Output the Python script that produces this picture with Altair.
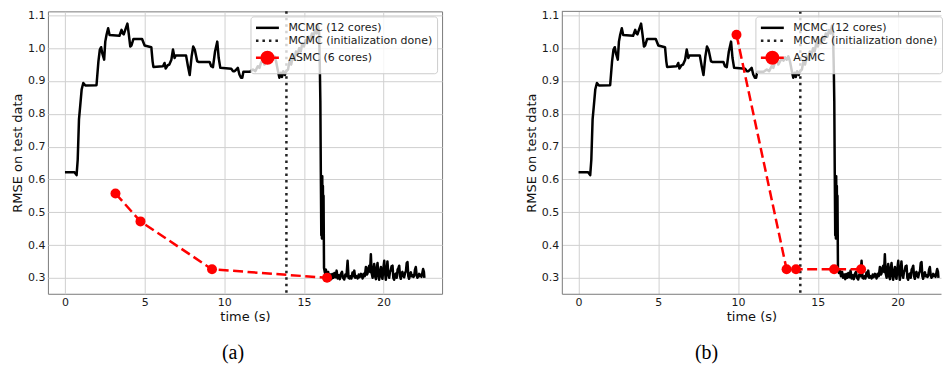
import altair as alt
import pandas as pd

# ---------------- data ----------------
mcmc_t = [0.0, 0.6, 0.73, 0.8, 0.88, 0.95, 1.05, 1.15, 1.28, 1.98, 2.1, 2.19, 2.27, 2.34, 2.46, 2.53,
          2.61, 2.71, 2.8, 3.42, 3.55, 3.62, 3.69, 3.8, 3.92, 4.0, 4.1, 4.17, 4.3, 4.84, 5.0, 5.42,
          5.5, 5.55, 6.15, 6.25, 6.32, 6.45, 6.55, 6.68, 6.78, 6.88, 6.95, 7.6, 7.72, 7.83, 7.95,
          8.05, 8.15, 8.3, 8.41, 9.08, 9.18, 9.29, 9.42, 9.56, 9.65, 9.75, 10.44, 10.55, 10.65,
          10.75, 10.85, 10.95, 11.05, 11.13, 11.2, 11.29, 11.6, 11.8, 11.95, 12.1, 12.21, 12.3,
          12.42, 12.52, 12.63, 12.75, 12.85, 12.95, 13.05, 13.15, 13.25, 13.35, 13.46, 13.55,
          13.62, 13.7, 13.8, 13.88, 14.0, 14.1, 14.2, 14.3, 14.4, 14.5, 14.6, 14.7, 14.8, 14.9,
          15.0, 15.1, 15.2, 15.3, 15.4, 15.5, 15.6, 15.7, 15.8, 15.88, 15.95, 16.0, 16.03, 16.06,
          16.09, 16.11, 16.13, 16.15, 16.17, 16.19, 16.21, 16.23, 16.26, 16.32, 16.38, 16.45,
          16.52, 16.58, 16.65, 16.72, 16.78, 16.85, 16.91, 16.98, 17.05, 17.12, 17.18, 17.25,
          17.32, 17.39, 17.45, 17.53, 17.6, 17.67, 17.74, 17.8, 17.86, 17.92, 17.98, 18.05, 18.1,
          18.16, 18.22, 18.3, 18.37, 18.44, 18.5, 18.58, 18.64, 18.68, 18.75, 18.82, 18.89, 18.95,
          18.99, 19.05, 19.1, 19.15, 19.2, 19.25, 19.31, 19.36, 19.41, 19.46, 19.52, 19.57, 19.62,
          19.67, 19.72, 19.78, 19.83, 19.88, 19.93, 19.99, 20.04, 20.09, 20.14, 20.19, 20.24,
          20.3, 20.35, 20.4, 20.45, 20.5, 20.56, 20.61, 20.66, 20.72, 20.77, 20.82, 20.88, 20.93,
          20.98, 21.03, 21.08, 21.13, 21.18, 21.24, 21.29, 21.35, 21.4, 21.45, 21.5, 21.55, 21.6,
          21.66, 21.71, 21.76, 21.82, 21.87, 21.92, 21.97, 22.02, 22.07, 22.12, 22.18, 22.23,
          22.28, 22.33, 22.38, 22.43, 22.48, 22.53, 22.56]
mcmc_rmse = [0.622, 0.622, 0.613, 0.66, 0.783, 0.82, 0.875, 0.894, 0.886, 0.887, 0.96, 0.996, 1.003,
             0.985, 0.965, 1.02, 1.041, 1.061, 1.04, 1.038, 1.056, 1.045, 1.042, 1.058, 1.075, 1.045,
             1.005, 1.008, 1.028, 1.028, 1.008, 1.003, 0.96, 0.943, 0.945, 0.955, 0.938, 0.948, 0.95,
             0.965, 0.996, 0.97, 0.978, 0.978, 0.945, 0.918, 0.975, 1.005, 0.995, 0.96, 0.958, 0.958,
             0.945, 0.942, 0.99, 1.02, 0.97, 0.94, 0.937, 0.93, 0.93, 0.935, 0.94, 0.92, 0.91, 0.91,
             0.928, 0.928, 0.928, 0.935, 0.93, 0.945, 0.94, 0.955, 0.965, 0.95, 0.96, 0.968, 0.962,
             0.972, 0.965, 0.975, 0.96, 0.935, 0.91, 0.925, 0.912, 0.93, 0.918, 0.93, 0.935, 0.962,
             0.95, 0.975, 0.965, 0.99, 0.98, 1.0, 0.99, 1.015, 1.005, 1.025, 1.015, 1.035, 1.025,
             1.045, 1.035, 1.055, 1.045, 1.068, 1.05, 0.935, 0.84, 0.62, 0.43, 0.6, 0.42, 0.61, 0.43,
             0.58, 0.44, 0.55, 0.33, 0.315, 0.325, 0.305, 0.318, 0.3, 0.31, 0.296, 0.312, 0.3, 0.315,
             0.302, 0.322, 0.298, 0.308, 0.296, 0.312, 0.318, 0.3, 0.295, 0.31, 0.305, 0.352, 0.3,
             0.298, 0.305, 0.298, 0.316, 0.305, 0.322, 0.3, 0.305, 0.298, 0.31, 0.302, 0.312, 0.306,
             0.298, 0.312, 0.305, 0.333, 0.31, 0.313, 0.33, 0.337, 0.318, 0.372, 0.315, 0.3, 0.325,
             0.342, 0.305, 0.296, 0.33, 0.345, 0.31, 0.294, 0.32, 0.333, 0.305, 0.297, 0.33, 0.352,
             0.315, 0.294, 0.32, 0.35, 0.31, 0.3, 0.318, 0.323, 0.335, 0.337, 0.3, 0.294, 0.31, 0.313,
             0.3, 0.325, 0.33, 0.337, 0.305, 0.297, 0.315, 0.318, 0.305, 0.302, 0.315, 0.32, 0.345,
             0.348, 0.305, 0.297, 0.312, 0.317, 0.305, 0.308, 0.303, 0.306, 0.325, 0.333, 0.31, 0.3,
             0.305, 0.312, 0.305, 0.309, 0.303, 0.315, 0.327, 0.318, 0.3]

init_done_t = [13.9]

asmc_a_t = [3.17, 4.74, 9.23, 16.45]
asmc_a_rmse = [0.557, 0.472, 0.326, 0.300]

asmc_b_t = [9.90, 13.04, 13.63, 16.02, 17.71]
asmc_b_rmse = [1.041, 0.326, 0.326, 0.326, 0.326]

labels_a = ["MCMC (12 cores)", "MCMC (initialization done)", "ASMC (6 cores)"]
labels_b = ["MCMC (12 cores)", "MCMC (initialization done)", "ASMC"]
captions = ["(a)", "(b)"]

x_ticks = [0, 5, 10, 15, 20]
y_ticks = [0.3, 0.4, 0.5, 0.6, 0.7, 0.8, 0.9, 1.0, 1.1]
x_domain_a = [-1.07, 23.67]
x_domain_b = [-1.05, 22.72]   # right panel is cut off at the figure edge
y_domain = [0.2514, 1.1122]

series_colors = ["black", "#222222", "red"]
frame_color = "#7a7a7a"
# legend symbols (unit = half the symbol size): solid line, dotted line,
# dashed line with a circle marker; drawn 23px long starting at the entry's left edge
legend_shapes = [
    "M-1,0H2.83",
    "M-1,0H-0.58M0.08,0H0.5M1.17,0H1.58M2.25,0H2.67",
    "M-1,0H-0.05M1.88,0H2.83M1.88,0A0.965,0.965,0,1,1,-0.05,0A0.965,0.965,0,1,1,1.88,0Z",
]


def panel(asmc_t, asmc_rmse, labels, caption, x_domain, open_right, cap_dx):
    mc = pd.DataFrame({"t": mcmc_t, "rmse": mcmc_rmse, "series": labels[0]})
    vd = pd.DataFrame({"t": init_done_t, "series": labels[1]})
    asmc = pd.DataFrame({"t": asmc_t, "rmse": asmc_rmse, "series": labels[2]})
    empty = pd.DataFrame({"t": pd.Series([], dtype=float),
                          "rmse": pd.Series([], dtype=float),
                          "series": pd.Series([], dtype=str)})

    xs = alt.Scale(domain=x_domain, nice=False, zero=False)
    ys = alt.Scale(domain=y_domain, nice=False, zero=False)

    if open_right:
        leg_pos = dict(orient="none", legendX=194, legendY=5)
    else:
        leg_pos = dict(orient="top-right", offset=5)
    leg = alt.Legend(title=None, **leg_pos,
                     fillColor="rgba(255,255,255,0.8)", strokeColor="#cccccc",
                     cornerRadius=3, padding=4,
                     labelFont="DejaVu Sans", labelFontSize=11, labelColor="#1a1a1a",
                     symbolSize=144, symbolStrokeWidth=2.5, labelOffset=19, rowPadding=0)

    color = alt.Color("series:N", scale=alt.Scale(domain=labels, range=series_colors), legend=leg)
    shape = alt.Shape("series:N", scale=alt.Scale(domain=labels, range=legend_shapes), legend=leg)

    dom = dict(domain=True, domainColor=frame_color, domainWidth=1) if open_right else {}
    xenc = alt.X("t:Q", scale=xs,
                 axis=alt.Axis(values=x_ticks, title="time (s)", format="d", **dom))
    yenc = alt.Y("rmse:Q", scale=ys,
                 axis=alt.Axis(values=y_ticks, format=".1f", title="RMSE on test data", **dom))

    layers = [
        alt.Chart(empty).mark_point(filled=True, opacity=1).encode(
            x=xenc, y=yenc, color=color, shape=shape),
        alt.Chart(mc).mark_line(strokeWidth=2.5, strokeJoin="round").encode(
            x=xenc, y=yenc, color=color),
        alt.Chart(vd).mark_rule(strokeWidth=2.5, strokeDash=[2.5, 4]).encode(
            x=alt.X("t:Q", scale=xs), color=color),
        alt.Chart(asmc).mark_line(strokeWidth=2.5, strokeDash=[10, 4.5]).encode(
            x=xenc, y=yenc, color=color),
        alt.Chart(asmc).mark_circle(size=100, opacity=1).encode(
            x=xenc, y=yenc, color=color),
    ]
    props = dict(
        width=395 if not open_right else 380, height=283,
        title=alt.TitleParams(caption, orient="bottom", font="Liberation Serif",
                              fontSize=20, fontWeight="normal", color="black",
                              offset=19, dx=cap_dx),
    )
    if open_right:
        # top spine (the right spine is cut off by the figure edge)
        top = pd.DataFrame({"rmse": [y_domain[1]]})
        layers.append(alt.Chart(top).mark_rule(color=frame_color, strokeWidth=1).encode(y=yenc))
        props["view"] = alt.ViewBackground(stroke="transparent")

    return alt.layer(*layers).properties(**props)


chart = alt.hconcat(
    panel(asmc_a_t, asmc_a_rmse, labels_a, captions[0], x_domain_a, False, -12),
    panel(asmc_b_t, asmc_b_rmse, labels_b, captions[1], x_domain_b, True, -45),
    spacing=120, bounds="flush",
).resolve_scale(
    x="independent", y="independent", color="independent", shape="independent"
).resolve_legend(
    color="independent", shape="independent"
).properties(
    padding={"left": 3, "top": 0, "right": 0, "bottom": 0}
).configure(
    font="DejaVu Sans"
).configure_view(
    stroke=frame_color, strokeWidth=1
).configure_axis(
    domain=False, ticks=False, labelPadding=3, labelFontSize=11, labelColor="#1a1a1a",
    labelFont="DejaVu Sans", titleFont="DejaVu Sans", titleFontSize=13,
    titleFontWeight="normal", titleColor="#111111", titlePadding=3,
    gridColor="#d0d0d0", gridWidth=1, gridOpacity=1
)

chart.save("out.html", embed_options={"renderer": "svg", "actions": False})
